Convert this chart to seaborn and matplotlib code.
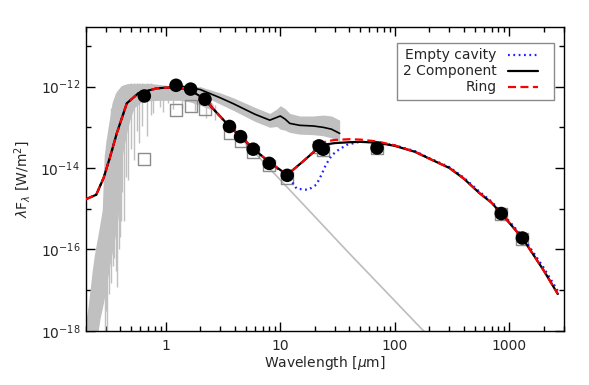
import matplotlib
matplotlib.use("Agg")
import matplotlib.pyplot as plt
import matplotlib.ticker as mticker
from matplotlib.patches import Rectangle
import seaborn as sns

# stellar spectrum (grey, noisy) - envelope
spec_wave = [0.200, 0.210, 0.219, 0.228, 0.237, 0.247, 0.257, 0.267, 0.279, 0.290,
             0.302, 0.321, 0.340, 0.361, 0.384, 0.397, 0.408, 0.433, 0.460, 0.489,
             0.530, 0.597, 0.730, 0.892, 1.09, 1.33, 1.63, 1.99, 2.43, 2.6]
spec_hi = [1.6e-18, 4e-18, 1.1e-17, 3e-17, 6.7e-17, 1.3e-16, 2.4e-16, 4.5e-16, 9.5e-16, 2e-14,
           5e-14, 1.5e-13, 4e-13, 6.5e-13, 8.5e-13, 9.5e-13, 1.05e-12, 1.12e-12, 1.18e-12, 1.2e-12,
           1.2e-12, 1.2e-12, 1.2e-12, 1.12e-12, 1.05e-12, 9.5e-13, 8.2e-13, 6e-13, 4.2e-13, 3.6e-13]
spec_lo = [5e-19, 5e-19, 5e-19, 5e-19, 5e-19, 5e-19, 1e-18, 2e-18, 3.5e-18, 6e-18,
           1.2e-17, 3.4e-17, 8e-17, 2e-16, 6e-16, 3e-15, 1.4e-14, 3.5e-14, 8e-14, 1.6e-13,
           3e-13, 4e-13, 4.5e-13, 4.6e-13, 4.6e-13, 4.6e-13, 4.2e-13, 3.5e-13, 2.8e-13, 3e-13]
spike_wave = [0.292, 0.300, 0.309, 0.318, 0.333, 0.345, 0.352, 0.368, 0.378, 0.388, 0.395, 0.405,
              0.418, 0.433, 0.448, 0.470, 0.500, 0.530, 0.560, 0.585, 0.625, 0.690, 0.74, 0.78,
              0.89, 0.95, 1.05, 1.15, 1.40, 1.80, 2.25, 2.70]
spike_top = [1e-14, 2e-14, 5e-14, 1e-13, 3e-13, 4e-13, 5e-13, 7e-13, 8e-13, 9e-13, 9e-13, 1e-12,
             1e-12, 1.1e-12, 1.1e-12, 1.15e-12, 1.2e-12, 1.2e-12, 1.2e-12, 1.2e-12, 1.2e-12,
             1.2e-12, 1.2e-12, 1.1e-12, 1.1e-12, 1e-12, 1e-12, 1e-12, 9e-13, 7e-13, 5e-13, 3.5e-13]
spike_bot = [8e-19, 3e-18, 1e-18, 8e-18, 1.5e-17, 4e-17, 6e-17, 3e-17, 1.2e-17, 1e-16, 2e-16, 5e-16,
             2.5e-15, 5e-16, 6e-15, 5e-15, 3e-14, 1.6e-14, 8e-14, 4.2e-14, 1.1e-13, 6e-14, 2e-13,
             2.2e-13, 3.2e-13, 2.4e-13, 3.9e-13, 2.8e-13, 3e-13, 2.5e-13, 1.7e-13, 1.5e-13]

# photosphere extension (grey line)
photo_wave = [2.5, 10, 40, 180]
photo_flux = [3.2e-13, 5.1e-15, 8e-17, 9.6e-19]

# mid-IR spectrum with uncertainty band
irs_wave = [1.2, 1.6, 2.0, 3.0, 3.9, 6.0, 8.1, 9.3, 10.0, 11.0, 12.1, 14.8, 19.4, 23.7, 28, 33]
irs_flux = [1.1e-12, 9.5e-13, 8.5e-13, 5.3e-13, 3.8e-13, 2.1e-13, 1.5e-13, 1.75e-13, 1.9e-13,
            1.6e-13, 1.25e-13, 1.12e-13, 1.08e-13, 1.0e-13, 9e-14, 7.1e-14]
irs_hi = [1.1e-12, 9.5e-13, 1e-12, 7e-13, 5.3e-13, 3.1e-13, 2.2e-13, 2.8e-13, 3.4e-13,
          2.9e-13, 2.2e-13, 1.9e-13, 1.9e-13, 2e-13, 1.9e-13, 1.5e-13]
irs_lo = [1.1e-12, 9.5e-13, 6.5e-13, 3.7e-13, 2.6e-13, 1.4e-13, 1.0e-13, 1.05e-13, 9e-14,
          8.5e-14, 7.5e-14, 6.8e-14, 6.6e-14, 6.2e-14, 5.5e-14, 4.5e-14]

# models
two_wave = [0.2, 0.247, 0.286, 0.327, 0.374, 0.457, 0.577, 0.835, 1.16, 1.63, 2.13, 3.6, 4.5,
            5.8, 8.0, 11.5, 16, 22, 25, 30, 40, 50, 70, 100, 150, 200, 300, 400, 550, 700,
            850, 1300, 2000, 2650]
two_flux = [1.7e-15, 2.2e-15, 5.6e-15, 1.9e-14, 7.2e-14, 3.9e-13, 6.9e-13, 9.1e-13, 9.7e-13,
            8.3e-13, 5.2e-13, 1.05e-13, 6e-14, 3e-14, 1.4e-14, 6.8e-15, 1.5e-14, 3.3e-14, 3.8e-14,
            4.1e-14, 4.3e-14, 4.4e-14, 4.2e-14, 3.5e-14, 2.5e-14, 1.7e-14, 1e-14, 5.5e-15, 2.4e-15,
            1.4e-15, 7.6e-16, 1.9e-16, 3e-17, 8e-18]
ring_flux = [1.7e-15, 2.2e-15, 5.6e-15, 1.9e-14, 7.2e-14, 3.9e-13, 6.9e-13, 9.1e-13, 9.7e-13,
             8.3e-13, 5.2e-13, 1.05e-13, 6e-14, 3e-14, 1.4e-14, 6.8e-15, 1.5e-14, 3.4e-14, 4.5e-14,
             4.9e-14, 5.1e-14, 5e-14, 4.5e-14, 3.6e-14, 2.5e-14, 1.7e-14, 1e-14, 5.5e-15, 2.4e-15,
             1.4e-15, 7.6e-16, 1.9e-16, 3e-17, 8e-18]
empty_wave = [0.2, 0.247, 0.286, 0.327, 0.374, 0.457, 0.577, 0.835, 1.16, 1.63, 2.13, 3.6, 4.5,
              5.8, 8.0, 10, 11.7, 13.9, 17.5, 20.7, 23, 25, 28, 31, 38, 49, 70, 100, 150, 200,
              300, 400, 550, 700, 850, 1300, 2000, 2650]
empty_flux = [1.7e-15, 2.2e-15, 5.6e-15, 1.9e-14, 7.2e-14, 3.9e-13, 6.9e-13, 9.1e-13, 9.7e-13,
              8.3e-13, 5.2e-13, 1.05e-13, 6e-14, 3e-14, 1.4e-14, 8.5e-15, 6.3e-15, 3.1e-15, 2.9e-15,
              3.9e-15, 7e-15, 1.2e-14, 2e-14, 2.6e-14, 3.7e-14, 4.4e-14, 4.3e-14, 3.6e-14, 2.6e-14,
              1.75e-14, 1.05e-14, 5.8e-15, 2.6e-15, 1.5e-15, 8.2e-16, 2.1e-16, 3.5e-17, 9.5e-18]

# photometry
phot_wave = [0.65, 1.23, 1.65, 2.2, 3.6, 4.5, 5.8, 8.0, 11.5, 21.8, 23.7, 70, 850, 1300]
phot_flux = [5.9e-13, 1.08e-12, 8.7e-13, 4.9e-13, 1.05e-13, 5.9e-14, 2.9e-14, 1.3e-14, 6.6e-15,
             3.5e-14, 2.9e-14, 3.1e-14, 7.6e-16, 1.9e-16]
sq_flux = [1.7e-14, 2.7e-13, 3.4e-13, 2.8e-13, 7.4e-14, 4.5e-14, 2.5e-14, 1.15e-14, 5.6e-15,
           3.3e-14, 2.7e-14, 3.0e-14, 7.4e-16, 1.8e-16]

sns.set_style("ticks")
plt.rcParams['font.family'] = ['DejaVu Sans']
plt.rcParams['mathtext.fontset'] = 'dejavusans'

fig = plt.figure(figsize=(5.89, 3.85), dpi=100)
ax = fig.add_axes([0.1455, 0.141, 0.812, 0.790])
ax.set_xscale('log')
ax.set_yscale('log')

grey = '#c0c0c0'
ax.fill_between(spec_wave, spec_lo, spec_hi, color=grey, lw=0, zorder=1)
ax.vlines(spike_wave, spike_bot, spike_top, color=grey, lw=1.0, zorder=1)
ax.fill_between(irs_wave, irs_lo, irs_hi, color=grey, lw=0, zorder=1)
sns.lineplot(x=photo_wave, y=photo_flux, color='#bdbdbd', lw=1.2, ax=ax, zorder=2)
sns.lineplot(x=irs_wave, y=irs_flux, color='black', lw=1.2, ax=ax, zorder=3)

sns.scatterplot(x=phot_wave, y=sq_flux, marker='s', s=72, facecolor='none',
                edgecolor='#8c8c8c', linewidth=1.0, ax=ax, zorder=3)

sns.lineplot(x=empty_wave, y=empty_flux, color='#1f1fff', lw=1.6,
             linestyle=(0, (0.8, 1.6)), ax=ax, zorder=4)
sns.lineplot(x=two_wave, y=two_flux, color='black', lw=1.6, ax=ax, zorder=5)
sns.lineplot(x=two_wave, y=ring_flux, color='#ff0000', lw=1.6,
             linestyle=(0, (3.6, 2.0)), ax=ax, zorder=6)

sns.scatterplot(x=phot_wave, y=phot_flux, color='black', s=95, edgecolor='none',
                ax=ax, zorder=7)

ax.set_xlim(0.2, 3000)
ax.set_ylim(1e-18, 3e-11)

ax.xaxis.set_major_locator(mticker.FixedLocator([1, 10, 100, 1000]))
ax.xaxis.set_major_formatter(mticker.FixedFormatter(['1', '10', '100', '1000']))
ax.xaxis.set_minor_locator(mticker.LogLocator(base=10, subs=range(2, 10), numticks=20))
ax.xaxis.set_minor_formatter(mticker.NullFormatter())
ax.yaxis.set_major_locator(mticker.FixedLocator([1e-18, 1e-16, 1e-14, 1e-12]))
ax.yaxis.set_major_formatter(mticker.FixedFormatter(
    [r'10$^{-18}$', r'10$^{-16}$', r'10$^{-14}$', r'10$^{-12}$']))
ax.yaxis.set_minor_locator(mticker.FixedLocator([1e-17, 1e-15, 1e-13, 1e-11]))
ax.yaxis.set_minor_formatter(mticker.NullFormatter())

ax.tick_params(which='both', direction='in', top=True, right=True, width=1.0,
               color='black', labelsize=10)
ax.tick_params(which='major', length=6.5)
ax.tick_params(which='minor', length=3.6)
ax.tick_params(axis='x', which='major', pad=6)
ax.tick_params(axis='y', which='major', pad=4)
for sp in ax.spines.values():
    sp.set_linewidth(1.0)
    sp.set_color('black')

ax.set_xlabel(r'Wavelength [$\mu$m]', fontsize=10)
ax.set_ylabel(r'$\lambda$F$_\lambda$ [W/m$^2$]', fontsize=10)
ax.xaxis.set_label_coords(0.5, -0.075)
ax.yaxis.set_label_coords(-0.11, 0.5)

# legend drawn by hand: text right-aligned, line sample to its right
ax.add_patch(Rectangle((0.651, 0.759), 0.328, 0.187, transform=ax.transAxes,
                       fill=False, edgecolor='#8a8a8a', lw=1.0, zorder=8))
leg_rows = [("Empty cavity", '#1f1fff', (0, (0.8, 1.6)), 0.907),
            ("2 Component", 'black', '-', 0.855),
            ("Ring", '#ff0000', (0, (3.6, 2.0)), 0.800)]
for label, col, ls, yy in leg_rows:
    ax.text(0.859, yy, label, transform=ax.transAxes, ha='right', va='center',
            fontsize=10, zorder=9)
    ax.plot([0.884, 0.946], [yy, yy], transform=ax.transAxes, color=col, ls=ls,
            lw=1.6, zorder=9)

fig.savefig("out.png", dpi=100)
